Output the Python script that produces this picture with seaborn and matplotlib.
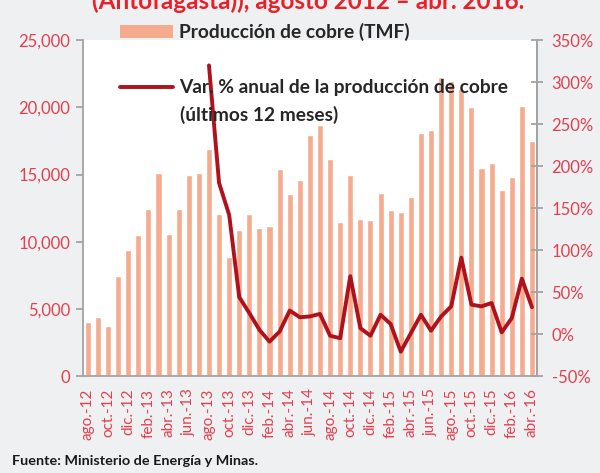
import matplotlib
matplotlib.use("Agg")
import matplotlib.pyplot as plt
import seaborn as sns
import pandas as pd
from matplotlib.patches import Patch
from matplotlib.lines import Line2D

# --- DATA ---
MONTHS = (["ago.-12", "sep.-12", "oct.-12", "nov.-12", "dic.-12"]
          + [m + "-13" for m in ["ene.", "feb.", "mar.", "abr.", "may.", "jun.", "jul.", "ago.", "sep.", "oct.", "nov.", "dic."]]
          + [m + "-14" for m in ["ene.", "feb.", "mar.", "abr.", "may.", "jun.", "jul.", "ago.", "sep.", "oct.", "nov.", "dic."]]
          + [m + "-15" for m in ["ene.", "feb.", "mar.", "abr.", "may.", "jun.", "jul.", "ago.", "sep.", "oct.", "nov.", "dic."]]
          + [m + "-16" for m in ["ene.", "feb.", "mar.", "abr."]])

PRODUCTION = [4050, 4400, 3750, 7480, 9400,
              10520, 12440, 15150, 10600, 12460, 14950, 15150, 16920, 12060, 8830, 10900, 12090,
              11020, 11190, 15420, 13580, 14570, 17980, 18680, 16170, 11470, 14980, 11690, 11590,
              13630, 12390, 12190, 13340, 18060, 18310, 22260, 21960, 21340, 20050, 15500, 15870,
              13830, 14830, 20100, 17480]

# annual % change (last 12 months), starts ago.-13
VAR_START = "ago.-13"
VAR_PCT = [320, 180, 142, 44, 25, 5, -9, 3, 28, 20, 21, 24, -2, -5, 69, 7, -2,
           23, 12, -21, 1, 23, 4, 21, 33, 91, 35, 33, 37, 2, 19, 66, 32]

BAR_LABEL = "Producción de cobre (TMF)"
LINE_LABEL = "Var. % anual de la producción de cobre"
LINE_LABEL_2 = "(últimos 12 meses)"
TITLE = "(Antofagasta)), agosto 2012 – abr. 2016."
SOURCE = "Fuente: Ministerio de Energía y Minas."

BAR_COLOR = "#F5AB8E"
LINE_COLOR = "#B0121D"
TICK_COLOR = "#E2404F"
SPINE = "#A3A3A3"
BG = "#EFF0F1"
LEG_SIZE = 13.8

df = pd.DataFrame({"month": MONTHS, "prod": PRODUCTION})
df["pos"] = range(len(df))
start = MONTHS.index(VAR_START)
df_var = pd.DataFrame({"pos": df["pos"].iloc[start:start + len(VAR_PCT)].values, "pct": VAR_PCT})

sns.set_theme(style="white")
plt.rcParams["font.family"] = ["Lato", "DejaVu Sans"]

fig = plt.figure(figsize=(6, 4.73), dpi=100, facecolor=BG)
ax = fig.add_axes([0.138, 0.205, 0.757, 0.71])
ax.set_facecolor("white")

sns.barplot(data=df, x="pos", y="prod", color=BAR_COLOR, saturation=1, width=0.6, ax=ax)
ax.set_xlim(-0.5, len(df) - 0.5)
ax.set_ylim(0, 25000)
ax.set_yticks(range(0, 25001, 5000))
ax.set_yticklabels([f"{v:,}" for v in range(0, 25001, 5000)])
ax.set_xticks(df["pos"][::2])
ax.set_xticklabels(df["month"][::2], rotation=90)
ax.set_xlabel("")
ax.set_ylabel("")

ax2 = ax.twinx()
sns.lineplot(data=df_var, x="pos", y="pct", color=LINE_COLOR, linewidth=2.8, ax=ax2)
ax2.set_ylim(-50, 350)
ax2.set_yticks(range(-50, 351, 50))
ax2.set_yticklabels([f"{v}%" for v in range(-50, 351, 50)])
ax2.set_ylabel("")
ax2.set_xlim(-0.5, len(df) - 0.5)

for a in (ax, ax2):
    a.spines["top"].set_visible(False)
    for s in ["left", "right", "bottom"]:
        a.spines[s].set_color(SPINE)
        a.spines[s].set_linewidth(1.3)
ax2.spines["left"].set_visible(False)
ax2.spines["bottom"].set_visible(False)

ax.tick_params(axis="y", colors=SPINE, labelcolor=TICK_COLOR, labelsize=12,
               left=True, length=5, width=1.3, pad=4)
ax.tick_params(axis="x", labelcolor=TICK_COLOR, labelsize=11, bottom=False, pad=3)
ax2.tick_params(axis="y", colors=SPINE, labelcolor=TICK_COLOR, labelsize=12,
                right=True, direction="inout", length=9, width=1.3, pad=6)

# legends
leg1 = fig.legend(handles=[Patch(facecolor=BAR_COLOR, edgecolor="none")], labels=[BAR_LABEL],
                  loc="center left", bbox_to_anchor=(0.2, 0.932), frameon=False,
                  handlelength=2.75, handleheight=0.65, handletextpad=0.35, borderpad=0, borderaxespad=0,
                  prop={"weight": "bold", "size": LEG_SIZE})
for t in leg1.get_texts():
    t.set_color("#262626")
leg2 = fig.legend(handles=[Line2D([], [], color=LINE_COLOR, linewidth=2.8)], labels=[LINE_LABEL],
                  loc="center left", bbox_to_anchor=(0.2, 0.814), frameon=False,
                  handlelength=2.75, handletextpad=0.35, borderpad=0, borderaxespad=0,
                  prop={"weight": "bold", "size": LEG_SIZE})
for t in leg2.get_texts():
    t.set_color("#262626")
fig.text(0.3, 0.757, LINE_LABEL_2, ha="left", va="center", color="#262626",
         fontsize=LEG_SIZE, fontweight="bold")

# title is cropped at the top edge, as in the source image
fig.text(0.513, 0.997, TITLE, ha="center", va="center", color="#E8202A",
         fontsize=17.5, fontweight="bold")
fig.text(0.02, 0.025, SOURCE, ha="left", va="center", color="#1A1A1A",
         fontsize=10.4, fontweight="bold")

fig.savefig("out.png", dpi=100, facecolor=BG)
